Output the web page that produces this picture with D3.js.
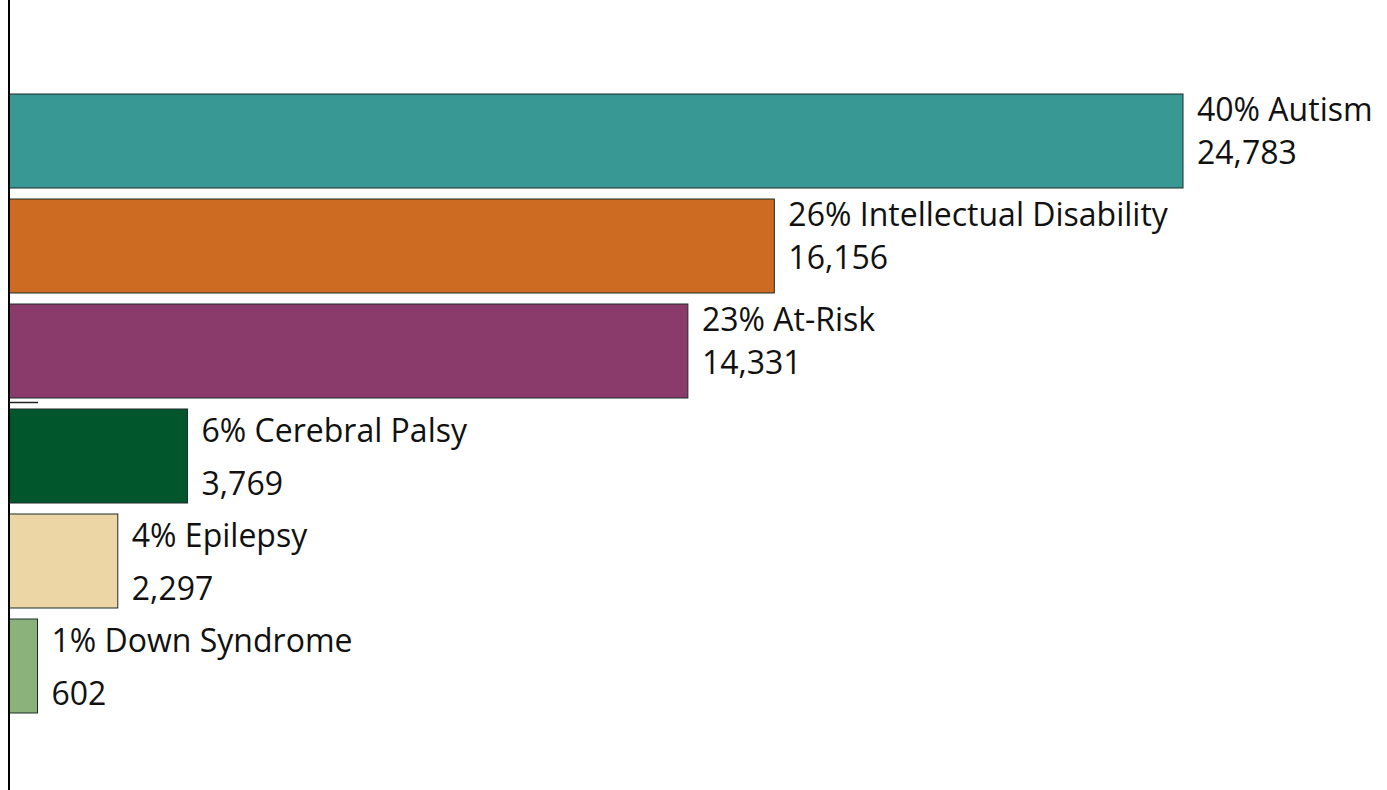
<!DOCTYPE html>
<meta charset="utf-8">
<head>
    <title>Diagnosis breakdown</title>
    <script type="text/javascript" src="https://cdn.jsdelivr.net/npm/d3@7"></script>
    <style>
        body { margin: 0; background: #fff; }
        .lbl { font-family: "Open Sans", sans-serif; font-size: 32px; fill: #111; }
    </style>
</head>
<body>
    <div id="chart"></div>
    <script>
        // data
        var categories = ["Autism", "Intellectual Disability", "At-Risk", "Cerebral Palsy", "Epilepsy", "Down Syndrome"];
        var counts = [24783, 16156, 14331, 3769, 2297, 602];
        var percents = [40, 26, 23, 6, 4, 1];
        var colors = ["#389994", "#cc6b21", "#8a3a6b", "#01562b", "#edd6a6", "#8bb27b"];

        var width = 1387, height = 790;

        var svg = d3.select("#chart")
            .append("svg")
            .attr("width", width)
            .attr("height", height);

        var x = d3.scaleLinear()
            .domain([0, d3.max(counts)])
            .range([9, 1183]);

        var p = 11 / 105;
        var y = d3.scaleBand()
            .domain(categories)
            .range([88.5, 718.5])
            .paddingInner(p)
            .paddingOuter(p / 2);

        var rows = categories.map(function(c, i) {
            return {name: c, count: counts[i], pct: percents[i], color: colors[i]};
        });

        svg.append("g")
            .selectAll("rect")
            .data(rows)
            .enter().append("rect")
            .attr("x", x(0))
            .attr("y", d => y(d.name))
            .attr("width", d => x(d.count) - x(0))
            .attr("height", y.bandwidth())
            .style("fill", d => d.color)
            .style("stroke", "#1d2b2b")
            .style("stroke-width", 1);

        // labels: two lines beside each bar, small bars get looser spacing
        var lab = svg.append("g")
            .selectAll("g")
            .data(rows)
            .enter().append("g")
            .attr("transform", d => "translate(" + (x(d.count) + 14) + "," + y(d.name) + ")");

        lab.append("text")
            .attr("class", "lbl")
            .attr("y", d => d.pct >= 10 ? 27 : 33)
            .text(d => d.pct + "% " + d.name);

        lab.append("text")
            .attr("class", "lbl")
            .attr("y", d => d.pct >= 10 ? 70 : 86)
            .text(d => d3.format(",")(d.count));

        // y axis line
        svg.append("line")
            .attr("x1", x(0)).attr("x2", x(0))
            .attr("y1", 0).attr("y2", height)
            .style("stroke", "#000")
            .style("stroke-width", 2);

        // small stray tick between the 3rd and 4th bar
        svg.append("line")
            .attr("x1", x(0)).attr("x2", x(0) + 29)
            .attr("y1", 402.5).attr("y2", 402.5)
            .style("stroke", "#222")
            .style("stroke-width", 1.5);
    </script>
</body>
</html>
